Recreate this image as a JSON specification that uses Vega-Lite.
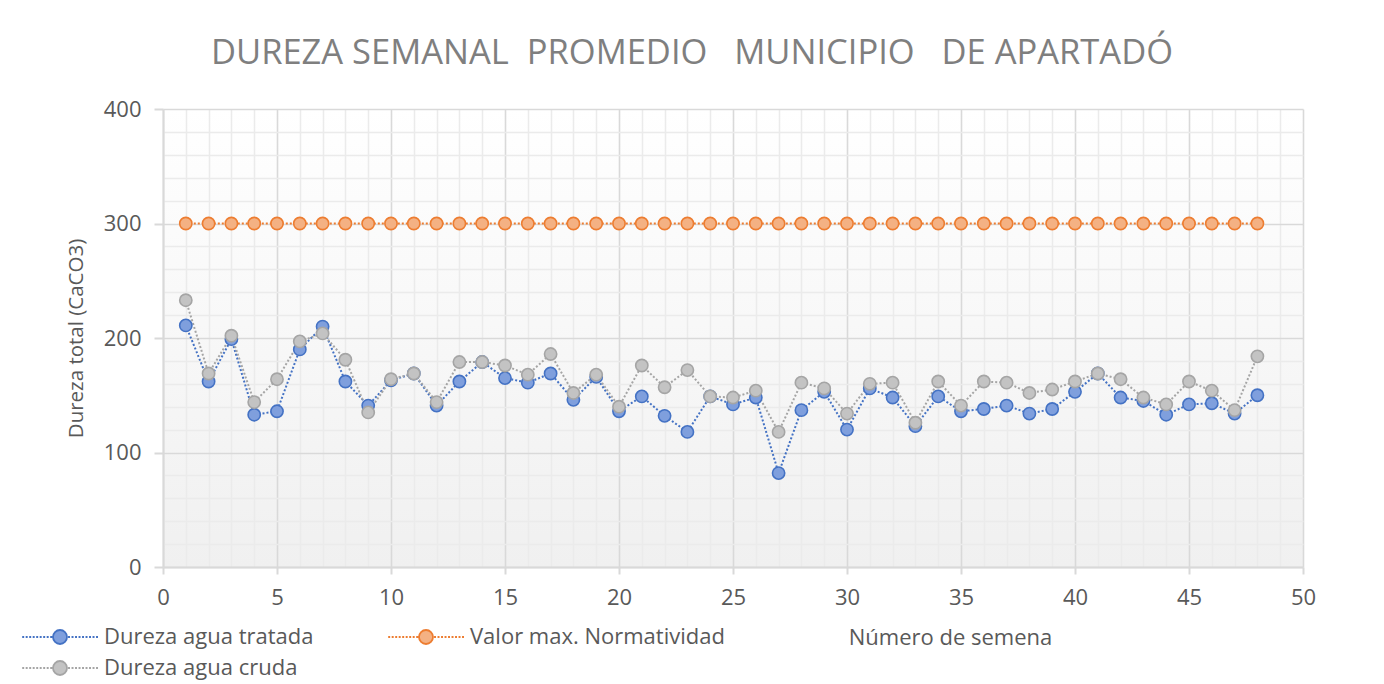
{
  "$schema": "https://vega.github.io/schema/vega-lite/v6.json",
  "width": 1140,
  "height": 458,
  "autosize": {"type": "none"},
  "padding": {"left": 163, "top": 109, "right": 81, "bottom": 117},
  "background": "#ffffff",
  "config": {
    "view": {
      "stroke": null,
      "fill": {"gradient": "linear", "x1": 0, "y1": 0, "x2": 0, "y2": 1, "stops": [{"offset": 0, "color": "#ffffff"}, {"offset": 1, "color": "#f0f0f0"}]}
    }
  },
  "title": {
    "text": "DUREZA SEMANAL\u00a0 PROMEDIO\u00a0 \u00a0MUNICIPIO\u00a0 \u00a0DE APARTADÓ",
    "font": "Open Sans",
    "fontSize": 34.5,
    "fontWeight": "normal",
    "color": "#7f7f7f",
    "anchor": "middle",
    "dx": -41,
    "offset": 27
  },
  "data": {
    "values": [
      {"semana": 1, "serie": "Dureza agua tratada", "valor": 211},
      {"semana": 2, "serie": "Dureza agua tratada", "valor": 162},
      {"semana": 3, "serie": "Dureza agua tratada", "valor": 199},
      {"semana": 4, "serie": "Dureza agua tratada", "valor": 133},
      {"semana": 5, "serie": "Dureza agua tratada", "valor": 136},
      {"semana": 6, "serie": "Dureza agua tratada", "valor": 190},
      {"semana": 7, "serie": "Dureza agua tratada", "valor": 210},
      {"semana": 8, "serie": "Dureza agua tratada", "valor": 162},
      {"semana": 9, "serie": "Dureza agua tratada", "valor": 141},
      {"semana": 10, "serie": "Dureza agua tratada", "valor": 163},
      {"semana": 11, "serie": "Dureza agua tratada", "valor": 169},
      {"semana": 12, "serie": "Dureza agua tratada", "valor": 141},
      {"semana": 13, "serie": "Dureza agua tratada", "valor": 162},
      {"semana": 14, "serie": "Dureza agua tratada", "valor": 179},
      {"semana": 15, "serie": "Dureza agua tratada", "valor": 165},
      {"semana": 16, "serie": "Dureza agua tratada", "valor": 161},
      {"semana": 17, "serie": "Dureza agua tratada", "valor": 169},
      {"semana": 18, "serie": "Dureza agua tratada", "valor": 146},
      {"semana": 19, "serie": "Dureza agua tratada", "valor": 166},
      {"semana": 20, "serie": "Dureza agua tratada", "valor": 136},
      {"semana": 21, "serie": "Dureza agua tratada", "valor": 149},
      {"semana": 22, "serie": "Dureza agua tratada", "valor": 132},
      {"semana": 23, "serie": "Dureza agua tratada", "valor": 118},
      {"semana": 24, "serie": "Dureza agua tratada", "valor": 149},
      {"semana": 25, "serie": "Dureza agua tratada", "valor": 142},
      {"semana": 26, "serie": "Dureza agua tratada", "valor": 148},
      {"semana": 27, "serie": "Dureza agua tratada", "valor": 82},
      {"semana": 28, "serie": "Dureza agua tratada", "valor": 137},
      {"semana": 29, "serie": "Dureza agua tratada", "valor": 153},
      {"semana": 30, "serie": "Dureza agua tratada", "valor": 120},
      {"semana": 31, "serie": "Dureza agua tratada", "valor": 156},
      {"semana": 32, "serie": "Dureza agua tratada", "valor": 148},
      {"semana": 33, "serie": "Dureza agua tratada", "valor": 123},
      {"semana": 34, "serie": "Dureza agua tratada", "valor": 149},
      {"semana": 35, "serie": "Dureza agua tratada", "valor": 136},
      {"semana": 36, "serie": "Dureza agua tratada", "valor": 138},
      {"semana": 37, "serie": "Dureza agua tratada", "valor": 141},
      {"semana": 38, "serie": "Dureza agua tratada", "valor": 134},
      {"semana": 39, "serie": "Dureza agua tratada", "valor": 138},
      {"semana": 40, "serie": "Dureza agua tratada", "valor": 153},
      {"semana": 41, "serie": "Dureza agua tratada", "valor": 169},
      {"semana": 42, "serie": "Dureza agua tratada", "valor": 148},
      {"semana": 43, "serie": "Dureza agua tratada", "valor": 145},
      {"semana": 44, "serie": "Dureza agua tratada", "valor": 133},
      {"semana": 45, "serie": "Dureza agua tratada", "valor": 142},
      {"semana": 46, "serie": "Dureza agua tratada", "valor": 143},
      {"semana": 47, "serie": "Dureza agua tratada", "valor": 134},
      {"semana": 48, "serie": "Dureza agua tratada", "valor": 150},
      {"semana": 1, "serie": "Valor max. Normatividad", "valor": 300},
      {"semana": 2, "serie": "Valor max. Normatividad", "valor": 300},
      {"semana": 3, "serie": "Valor max. Normatividad", "valor": 300},
      {"semana": 4, "serie": "Valor max. Normatividad", "valor": 300},
      {"semana": 5, "serie": "Valor max. Normatividad", "valor": 300},
      {"semana": 6, "serie": "Valor max. Normatividad", "valor": 300},
      {"semana": 7, "serie": "Valor max. Normatividad", "valor": 300},
      {"semana": 8, "serie": "Valor max. Normatividad", "valor": 300},
      {"semana": 9, "serie": "Valor max. Normatividad", "valor": 300},
      {"semana": 10, "serie": "Valor max. Normatividad", "valor": 300},
      {"semana": 11, "serie": "Valor max. Normatividad", "valor": 300},
      {"semana": 12, "serie": "Valor max. Normatividad", "valor": 300},
      {"semana": 13, "serie": "Valor max. Normatividad", "valor": 300},
      {"semana": 14, "serie": "Valor max. Normatividad", "valor": 300},
      {"semana": 15, "serie": "Valor max. Normatividad", "valor": 300},
      {"semana": 16, "serie": "Valor max. Normatividad", "valor": 300},
      {"semana": 17, "serie": "Valor max. Normatividad", "valor": 300},
      {"semana": 18, "serie": "Valor max. Normatividad", "valor": 300},
      {"semana": 19, "serie": "Valor max. Normatividad", "valor": 300},
      {"semana": 20, "serie": "Valor max. Normatividad", "valor": 300},
      {"semana": 21, "serie": "Valor max. Normatividad", "valor": 300},
      {"semana": 22, "serie": "Valor max. Normatividad", "valor": 300},
      {"semana": 23, "serie": "Valor max. Normatividad", "valor": 300},
      {"semana": 24, "serie": "Valor max. Normatividad", "valor": 300},
      {"semana": 25, "serie": "Valor max. Normatividad", "valor": 300},
      {"semana": 26, "serie": "Valor max. Normatividad", "valor": 300},
      {"semana": 27, "serie": "Valor max. Normatividad", "valor": 300},
      {"semana": 28, "serie": "Valor max. Normatividad", "valor": 300},
      {"semana": 29, "serie": "Valor max. Normatividad", "valor": 300},
      {"semana": 30, "serie": "Valor max. Normatividad", "valor": 300},
      {"semana": 31, "serie": "Valor max. Normatividad", "valor": 300},
      {"semana": 32, "serie": "Valor max. Normatividad", "valor": 300},
      {"semana": 33, "serie": "Valor max. Normatividad", "valor": 300},
      {"semana": 34, "serie": "Valor max. Normatividad", "valor": 300},
      {"semana": 35, "serie": "Valor max. Normatividad", "valor": 300},
      {"semana": 36, "serie": "Valor max. Normatividad", "valor": 300},
      {"semana": 37, "serie": "Valor max. Normatividad", "valor": 300},
      {"semana": 38, "serie": "Valor max. Normatividad", "valor": 300},
      {"semana": 39, "serie": "Valor max. Normatividad", "valor": 300},
      {"semana": 40, "serie": "Valor max. Normatividad", "valor": 300},
      {"semana": 41, "serie": "Valor max. Normatividad", "valor": 300},
      {"semana": 42, "serie": "Valor max. Normatividad", "valor": 300},
      {"semana": 43, "serie": "Valor max. Normatividad", "valor": 300},
      {"semana": 44, "serie": "Valor max. Normatividad", "valor": 300},
      {"semana": 45, "serie": "Valor max. Normatividad", "valor": 300},
      {"semana": 46, "serie": "Valor max. Normatividad", "valor": 300},
      {"semana": 47, "serie": "Valor max. Normatividad", "valor": 300},
      {"semana": 48, "serie": "Valor max. Normatividad", "valor": 300},
      {"semana": 1, "serie": "Dureza agua cruda", "valor": 233},
      {"semana": 2, "serie": "Dureza agua cruda", "valor": 169},
      {"semana": 3, "serie": "Dureza agua cruda", "valor": 202},
      {"semana": 4, "serie": "Dureza agua cruda", "valor": 144},
      {"semana": 5, "serie": "Dureza agua cruda", "valor": 164},
      {"semana": 6, "serie": "Dureza agua cruda", "valor": 197},
      {"semana": 7, "serie": "Dureza agua cruda", "valor": 204},
      {"semana": 8, "serie": "Dureza agua cruda", "valor": 181},
      {"semana": 9, "serie": "Dureza agua cruda", "valor": 135},
      {"semana": 10, "serie": "Dureza agua cruda", "valor": 164},
      {"semana": 11, "serie": "Dureza agua cruda", "valor": 169},
      {"semana": 12, "serie": "Dureza agua cruda", "valor": 144},
      {"semana": 13, "serie": "Dureza agua cruda", "valor": 179},
      {"semana": 14, "serie": "Dureza agua cruda", "valor": 179},
      {"semana": 15, "serie": "Dureza agua cruda", "valor": 176},
      {"semana": 16, "serie": "Dureza agua cruda", "valor": 168},
      {"semana": 17, "serie": "Dureza agua cruda", "valor": 186},
      {"semana": 18, "serie": "Dureza agua cruda", "valor": 152},
      {"semana": 19, "serie": "Dureza agua cruda", "valor": 168},
      {"semana": 20, "serie": "Dureza agua cruda", "valor": 140},
      {"semana": 21, "serie": "Dureza agua cruda", "valor": 176},
      {"semana": 22, "serie": "Dureza agua cruda", "valor": 157},
      {"semana": 23, "serie": "Dureza agua cruda", "valor": 172},
      {"semana": 24, "serie": "Dureza agua cruda", "valor": 149},
      {"semana": 25, "serie": "Dureza agua cruda", "valor": 148},
      {"semana": 26, "serie": "Dureza agua cruda", "valor": 154},
      {"semana": 27, "serie": "Dureza agua cruda", "valor": 118},
      {"semana": 28, "serie": "Dureza agua cruda", "valor": 161},
      {"semana": 29, "serie": "Dureza agua cruda", "valor": 156},
      {"semana": 30, "serie": "Dureza agua cruda", "valor": 134},
      {"semana": 31, "serie": "Dureza agua cruda", "valor": 160},
      {"semana": 32, "serie": "Dureza agua cruda", "valor": 161},
      {"semana": 33, "serie": "Dureza agua cruda", "valor": 126},
      {"semana": 34, "serie": "Dureza agua cruda", "valor": 162},
      {"semana": 35, "serie": "Dureza agua cruda", "valor": 141},
      {"semana": 36, "serie": "Dureza agua cruda", "valor": 162},
      {"semana": 37, "serie": "Dureza agua cruda", "valor": 161},
      {"semana": 38, "serie": "Dureza agua cruda", "valor": 152},
      {"semana": 39, "serie": "Dureza agua cruda", "valor": 155},
      {"semana": 40, "serie": "Dureza agua cruda", "valor": 162},
      {"semana": 41, "serie": "Dureza agua cruda", "valor": 169},
      {"semana": 42, "serie": "Dureza agua cruda", "valor": 164},
      {"semana": 43, "serie": "Dureza agua cruda", "valor": 148},
      {"semana": 44, "serie": "Dureza agua cruda", "valor": 142},
      {"semana": 45, "serie": "Dureza agua cruda", "valor": 162},
      {"semana": 46, "serie": "Dureza agua cruda", "valor": 154},
      {"semana": 47, "serie": "Dureza agua cruda", "valor": 137},
      {"semana": 48, "serie": "Dureza agua cruda", "valor": 184}
    ]
  },
  "layer": [
    {
      "mark": {"type": "line", "strokeDash": [2, 2], "strokeWidth": 2},
      "encoding": {
        "x": {
          "field": "semana", "type": "quantitative",
          "scale": {"domain": [0, 50], "nice": false},
          "axis": {
            "orient": "bottom",
            "values": [0, 5, 10, 15, 20, 25, 30, 35, 40, 45, 50],
            "title": "Número de semena",
            "titleX": 787, "titleY": 60,
            "titleFont": "Open Sans", "titleFontSize": 22, "titleFontWeight": "normal", "titleColor": "#595959",
            "labelFont": "Open Sans", "labelFontSize": 22, "labelColor": "#595959",
            "labelPadding": 13, "labelFlush": false, "labelOverlap": false,
            "tickSize": 7, "tickColor": "#d9d9d9", "tickWidth": 2,
            "domainColor": "#d9d9d9", "domainWidth": 2,
            "gridColor": "#d9d9d9", "gridWidth": 1.6
          }
        },
        "y": {
          "field": "valor", "type": "quantitative",
          "scale": {"domain": [0, 400], "nice": false},
          "axis": {
            "orient": "left",
            "values": [0, 100, 200, 300, 400],
            "title": "Dureza total (CaCO3)",
            "titleX": -87, "titleBaseline": "middle",
            "titleFont": "Open Sans", "titleFontSize": 20.5, "titleFontWeight": "normal", "titleColor": "#595959",
            "labelFont": "Open Sans", "labelFontSize": 22, "labelColor": "#595959",
            "labelPadding": 13,
            "tickSize": 9, "tickColor": "#d9d9d9", "tickWidth": 2,
            "domainColor": "#d9d9d9", "domainWidth": 2,
            "gridColor": "#d9d9d9", "gridWidth": 1.6
          }
        },
        "color": {
          "field": "serie", "type": "nominal",
          "scale": {"domain": ["Dureza agua tratada", "Valor max. Normatividad", "Dureza agua cruda"], "range": ["#4472c4", "#ed7d31", "#a5a5a5"]},
          "legend": {
            "title": null,
            "orient": "none",
            "legendX": -114,
            "legendY": 517,
            "direction": "horizontal",
            "columns": 2,
            "symbolType": "M-5.4,0h0.28M-4.9,0h0.28M-4.4,0h0.28M-3.9,0h0.28M-3.4,0h0.28M-2.9,0h0.28M-2.4,0h0.28M-1.9,0h0.28M-1.4,0h0.28M1.15,0h0.28M1.65,0h0.28M2.15,0h0.28M2.65,0h0.28M3.15,0h0.28M3.65,0h0.28M4.15,0h0.28M4.65,0h0.28M5.15,0h0.28M-1,0A1,1,0,1,1,1,0A1,1,0,1,1,-1,0Z",
            "symbolSize": 196,
            "symbolStrokeWidth": 1.8,
            "labelFont": "Open Sans",
            "labelFontSize": 22,
            "labelColor": "#595959",
            "labelOffset": 33,
            "columnPadding": 70,
            "rowPadding": 9,
            "labelLimit": 500,
            "encode": {
              "symbols": {
                "update": {
                  "fill": {"scale": "fill", "field": "value"},
                  "fillOpacity": {"value": 1},
                  "opacity": {"value": 1},
                  "strokeDash": {"value": []}
                }
              }
            }
          }
        }
      }
    },
    {
      "mark": {"type": "point", "filled": false, "size": 150, "strokeWidth": 1.6, "opacity": 1, "fillOpacity": 1},
      "encoding": {
        "x": {
          "field": "semana", "type": "quantitative",
          "axis": {
            "orient": "bottom",
            "values": [1, 2, 3, 4, 6, 7, 8, 9, 11, 12, 13, 14, 16, 17, 18, 19, 21, 22, 23, 24, 26, 27, 28, 29, 31, 32, 33, 34, 36, 37, 38, 39, 41, 42, 43, 44, 46, 47, 48, 49],
            "labels": false, "ticks": false, "domain": false, "title": null,
            "grid": true,
            "gridColor": "#ebebeb", "gridWidth": 1.5
          }
        },
        "y": {
          "field": "valor", "type": "quantitative",
          "axis": {
            "orient": "left",
            "values": [20, 40, 60, 80, 120, 140, 160, 180, 220, 240, 260, 280, 320, 340, 360, 380],
            "labels": false, "ticks": false, "domain": false, "title": null,
            "grid": true,
            "gridColor": "#ebebeb", "gridWidth": 1.5
          }
        },
        "color": {"field": "serie", "type": "nominal"},
        "fill": {
          "field": "serie", "type": "nominal",
          "scale": {"domain": ["Dureza agua tratada", "Valor max. Normatividad", "Dureza agua cruda"], "range": ["#7f9fdd", "#f4b183", "#c3c3c3"]},
          "legend": null
        }
      }
    }
  ],
  "resolve": {"axis": {"x": "independent", "y": "independent"}}
}
